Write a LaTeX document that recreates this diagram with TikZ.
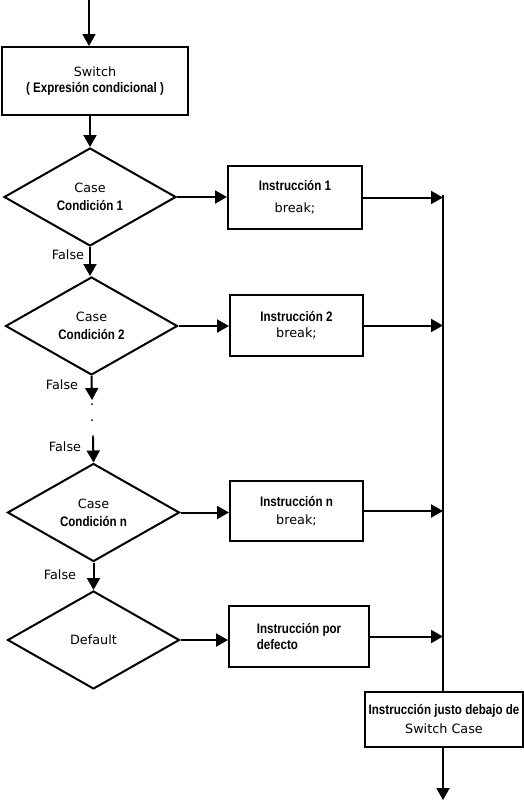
\documentclass[tikz,border=0pt]{standalone}
\usepackage{fontspec}
\setmainfont{DejaVu Sans}
\newfontfamily\swArialFont[FakeStretch=0.84]{Liberation Sans}
\usetikzlibrary{shapes.geometric,arrows.meta,positioning}

\def\swLine{2pt}
\def\swCaseW{172pt}
\def\swCaseH{98pt}
\def\swBoxW{134pt}
\def\swBoxH{62pt}
\def\swMergeX{443}
\newcommand\swBold[1]{{\swArialFont\bfseries\fontsize{13.8}{15}\selectfont #1}}

\begin{document}
\begin{tikzpicture}[x=1pt,y=-1pt,
    every node/.style={font=\fontsize{12.8}{14}\selectfont},
    swbox/.style={draw, line width=\swLine, minimum width=\swBoxW,
        minimum height=\swBoxH, align=center, inner sep=1pt},
    swcase/.style={draw, diamond, aspect=1.75, line width=\swLine,
        minimum width=\swCaseW, minimum height=\swCaseH, inner sep=0pt,
        align=center},
    swarrow/.style={line width=\swLine, -{Triangle[length=12pt,width=13pt]}},
    swline/.style={line width=\swLine}]
    \useasboundingbox (0,0) rectangle (524,801);
    %% entry and switch
    \coordinate (start) at (89,0);
    \node [swbox, minimum width=186pt, minimum height=68pt] (switch) at (95,81)
        {Switch\\[2pt] \swBold{( Expresión condicional )}};
    %% cases
    \node [swcase] (case1) at (90,197)
        {Case\\[4pt] \swBold{Condición 1}};
    \node [swcase] (case2) at (91.5,326)
        {Case\\[4pt] \swBold{Condición 2}};
    \node [swcase] (casen) at (93.5,512.5)
        {Case\\[4pt] \swBold{Condición n}};
    \node [swcase] (default) at (93.5,640) {Default};
    %% instructions
    \node [swbox, minimum height=63pt] (inst1) at (295,197.5)
        {\swBold{Instrucción 1}\\[8pt] break;};
    \node [swbox, minimum width=133pt, minimum height=61pt] (inst2) at (296.5,325.5)
        {\swBold{Instrucción 2}\\[2pt] break;};
    \node [swbox, minimum width=133pt, minimum height=60pt] (instn) at (296.5,511)
        {\swBold{Instrucción n}\\[4pt] break;};
    \node [swbox, minimum width=140pt, minimum height=61pt, align=left] (instdef) at (299,636.5)
        {\swBold{Instrucción por}\\[2pt] \swBold{defecto}};
    \node [swbox, minimum width=158pt, minimum height=55pt, inner sep=0pt] (after) at (444,719.5)
        {\swBold{Instrucción justo debajo de}\\[5pt] Switch Case};
    %% false labels
    \node (false1) at (68,255) {False};
    \node (false2) at (62,385) {False};
    \node (false3) at (65,447) {False};
    \node (false4) at (60,575) {False};
    %% dots
    \coordinate (dotA) at (92,400);
    \coordinate (dotC) at (93,437);
    \fill (92,404) circle (1pt) (92,420) circle (1pt) (93,436) circle (1pt);
    %% merge line
    \coordinate (mergetop) at (\swMergeX,195);
    \coordinate (exit) at (\swMergeX,800);

    %% connectors
    \draw [swarrow] (start) -- (start |- switch.north);
    \draw [swarrow] (switch.south -| case1.north) -- (case1.north);
    \draw [swarrow] (case1.south) -- (case2.north -| case1.south);
    \draw [swarrow] (case2.south) -- (dotA);
    \draw [swarrow] (dotC) -- (casen.north);
    \draw [swarrow] (casen.south) -- (default.north);
    \draw [swarrow] (case1.east) -- (case1.east -| inst1.west);
    \draw [swarrow] (case2.east) -- (case2.east -| inst2.west);
    \draw [swarrow] (casen.east) -- (casen.east -| instn.west);
    \draw [swarrow] (default.east) -- (default.east -| instdef.west);
    \draw [swarrow] (inst1.east) -- (inst1.east -| mergetop);
    \draw [swarrow] (inst2.east) -- (inst2.east -| mergetop);
    \draw [swarrow] (instn.east) -- (instn.east -| mergetop);
    \draw [swarrow] (instdef.east) -- (instdef.east -| mergetop);
    \draw [swline] (mergetop) -- (mergetop |- after.north);
    \draw [swarrow] (after.south -| mergetop) -- (exit);
\end{tikzpicture}
\end{document}
